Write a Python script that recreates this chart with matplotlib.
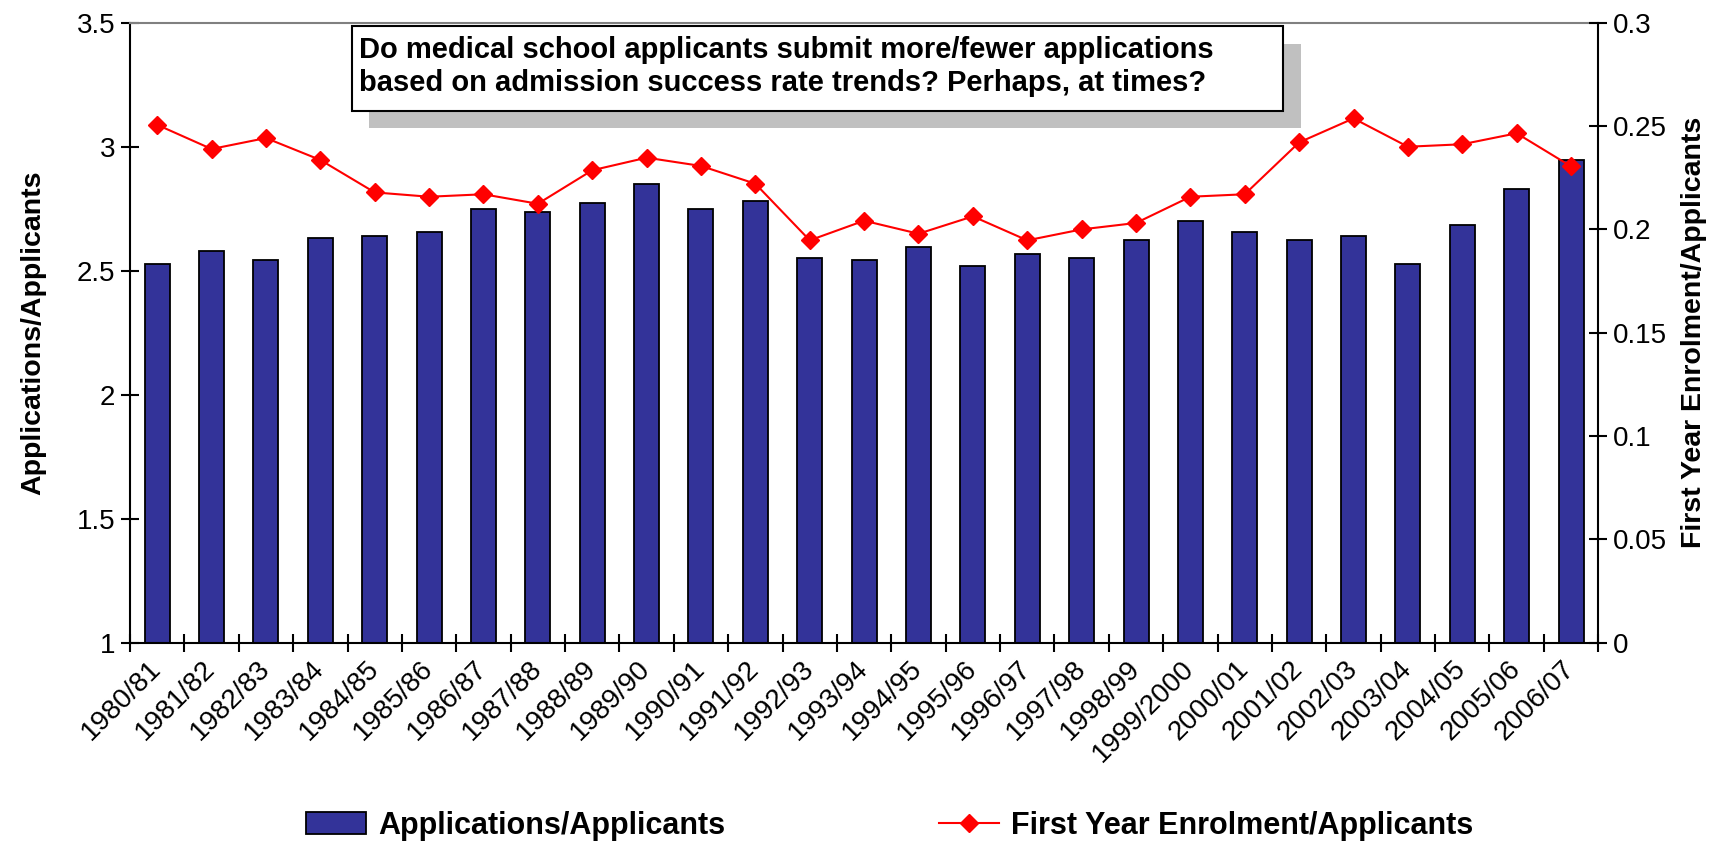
import matplotlib
matplotlib.use("Agg")
import matplotlib.pyplot as plt
from matplotlib.patches import Rectangle, Patch
from matplotlib.lines import Line2D
import numpy as np

plt.rcParams['font.family'] = ['Liberation Sans', 'DejaVu Sans']

#==========================================================
# data
#==========================================================
years = ["1980/81", "1981/82", "1982/83", "1983/84", "1984/85", "1985/86",
         "1986/87", "1987/88", "1988/89", "1989/90", "1990/91", "1991/92",
         "1992/93", "1993/94", "1994/95", "1995/96", "1996/97", "1997/98",
         "1998/99", "1999/2000", "2000/01", "2001/02", "2002/03", "2003/04",
         "2004/05", "2005/06", "2006/07"]

apps_per_applicant = [2.527, 2.579, 2.543, 2.633, 2.641, 2.657, 2.748, 2.738,
                      2.772, 2.851, 2.748, 2.781, 2.552, 2.543, 2.597, 2.518,
                      2.569, 2.552, 2.623, 2.701, 2.657, 2.623, 2.640, 2.527,
                      2.684, 2.831, 2.947]

enrol_per_applicant = [0.2506, 0.2389, 0.2442, 0.2336, 0.2179, 0.2158, 0.2170,
                       0.2124, 0.2286, 0.2347, 0.2307, 0.2221, 0.1947, 0.2042,
                       0.1979, 0.2063, 0.1947, 0.2000, 0.2031, 0.2158, 0.2170,
                       0.2421, 0.2537, 0.2400, 0.2412, 0.2465, 0.2305]

left_ticks = [1, 1.5, 2, 2.5, 3, 3.5]
left_ticklabels = ["1", "1.5", "2", "2.5", "3", "3.5"]
right_ticks = [0, 0.05, 0.1, 0.15, 0.2, 0.25, 0.3]
right_ticklabels = ["0", "0.05", "0.1", "0.15", "0.2", "0.25", "0.3"]

bar_label = "Applications/Applicants"
line_label = "First Year Enrolment/Applicants"
note_lines = ["Do medical school applicants submit more/fewer applications",
              "based on admission success rate trends? Perhaps, at times?"]

BAR_COLOR = "#333399"
LINE_COLOR = "#FF0000"

#==========================================================
# plot
#==========================================================
fig = plt.figure(figsize=(17.31, 8.42), dpi=100)
ax = fig.add_axes([0.0751, 0.2367, 0.8482, 0.7363])
ax2 = ax.twinx()

x = np.arange(len(years))
ax.bar(x, apps_per_applicant, width=0.46, color=BAR_COLOR,
       edgecolor="black", linewidth=1.3, zorder=2)
ax.set_xlim(-0.5, len(years) - 0.5)
ax.set_ylim(1, 3.5)
ax.set_yticks(left_ticks)
ax.set_yticklabels(left_ticklabels)

ax2.plot(x, enrol_per_applicant, "-", color=LINE_COLOR, linewidth=1.5,
         marker="D", markersize=9, markerfacecolor=LINE_COLOR,
         markeredgecolor=LINE_COLOR)
ax2.set_ylim(0, 0.3)
ax2.set_yticks(right_ticks)
ax2.set_yticklabels(right_ticklabels)

# x ticks: labels at category centres, marks at the boundaries
ax.set_xticks(x)
ax.set_xticklabels(years, rotation=45, ha="right", va="center",
                   rotation_mode="anchor")
ax.set_xticks(np.arange(len(years) + 1) - 0.5, minor=True)
ax.tick_params(axis="x", which="major", length=0, pad=16, labelsize=20)
ax.tick_params(axis="x", which="minor", direction="inout", length=13,
               width=1.5)
ax.tick_params(axis="y", direction="inout", length=13, width=1.5,
               labelsize=20, pad=4)
ax2.tick_params(axis="y", direction="inout", length=13, width=1.5,
                labelsize=20, pad=4)

for sp in ["left", "bottom"]:
    ax.spines[sp].set_linewidth(1.5)
ax.spines["top"].set_color("#808080")
ax.spines["top"].set_linewidth(1.5)
ax.spines["right"].set_visible(False)
for sp in ["left", "bottom", "top"]:
    ax2.spines[sp].set_visible(False)
ax2.spines["right"].set_linewidth(1.5)

ax.set_ylabel(bar_label, fontsize=20.5, fontweight="bold", labelpad=22)
ax2.set_ylabel(line_label, fontsize=20.5, fontweight="bold", labelpad=10)

# note box with shadow
fig.add_artist(Rectangle((0.2132, 0.8476), 0.5382, 0.1001,
                         transform=fig.transFigure, facecolor="#C0C0C0",
                         edgecolor="none", zorder=5))
fig.add_artist(Rectangle((0.2032, 0.8685), 0.5382, 0.1006,
                         transform=fig.transFigure, facecolor="white",
                         edgecolor="black", linewidth=1.5, zorder=6))
fig.text(0.2074, 0.9406, note_lines[0], fontsize=21, fontweight="bold",
         va="center", ha="left", zorder=7)
fig.text(0.2074, 0.9014, note_lines[1], fontsize=21, fontweight="bold",
         va="center", ha="left", zorder=7)

# legend
handles = [Patch(facecolor=BAR_COLOR, edgecolor="black", linewidth=1.3),
           Line2D([0], [0], color=LINE_COLOR, linewidth=1.5, marker="D",
                  markersize=9, markerfacecolor=LINE_COLOR,
                  markeredgecolor=LINE_COLOR)]
fig.legend(handles, [bar_label, line_label], loc="center",
           bbox_to_anchor=(0.514, 0.019), ncol=2, frameon=False,
           prop={"size": 22, "weight": "bold"}, handlelength=1.95,
           handleheight=0.72, handletextpad=0.4, columnspacing=7.0)

fig.savefig("out.png", dpi=100)
